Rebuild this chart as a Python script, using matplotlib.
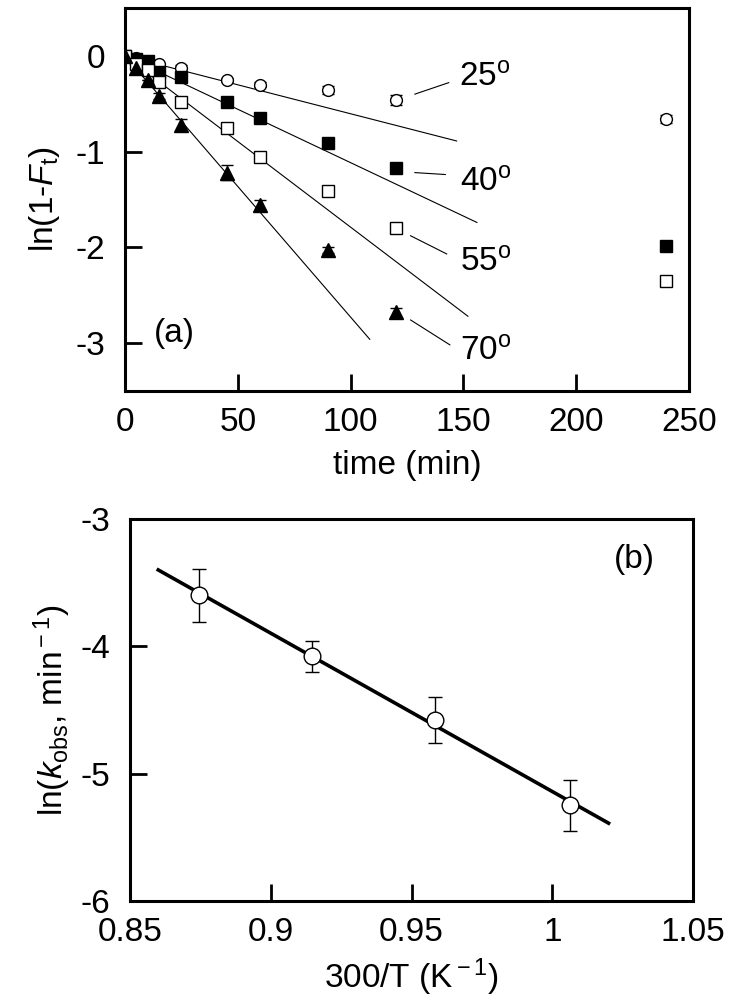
import numpy as np
import matplotlib
matplotlib.use('Agg')
import matplotlib.pyplot as plt

plt.rcParams['font.family'] = ['Liberation Sans', 'DejaVu Sans']
plt.rcParams['mathtext.fontset'] = 'custom'
plt.rcParams['mathtext.rm'] = 'Liberation Sans'
plt.rcParams['mathtext.it'] = 'Liberation Sans:italic'
plt.rcParams['axes.unicode_minus'] = False

# (a) decay data, ln(1-Ft) vs time (min)
time = [0, 5, 10, 15, 25, 45, 60, 90, 120, 240]
y25 = [0, -0.02, -0.05, -0.08, -0.13, -0.25, -0.30, -0.36, -0.46, -0.66]
e25 = [0, 0, 0, 0, 0.03, 0.02, 0.03, 0.04, 0.05, 0.04]
y40 = [0, -0.03, -0.05, -0.17, -0.22, -0.48, -0.65, -0.91, -1.17, -1.99]
e40 = [0, 0, 0, 0, 0.02, 0.02, 0.02, 0.02, 0.02, 0.02]
y55 = [0, -0.08, -0.15, -0.27, -0.48, -0.75, -1.06, -1.41, -1.80, -2.35]
e55 = [0, 0, 0, 0, 0.02, 0.02, 0.02, 0.02, 0.02, 0.02]
time70 = [0, 5, 10, 15, 25, 45, 60, 90, 120]
y70 = [0, -0.13, -0.25, -0.42, -0.72, -1.22, -1.56, -2.03, -2.68]
e70 = [0, 0, 0, 0.03, 0.06, 0.08, 0.05, 0.03, 0.05]

# fitted first-order rate constants and where each fit line stops
k_fit = [0.00605, 0.01116, 0.0179, 0.0273]
t_end = [147, 156, 152, 108.5]

temps = ['25', '40', '55', '70']
lab_xy = [(148, -0.23), (148.5, -1.33), (148.5, -2.17), (148.5, -3.10)]
lead_x = [(128.5, 143.5), (128.5, 142), (126.6, 142.6), (126.6, 144)]
lead_y = [(-0.40, -0.28), (-1.22, -1.24), (-1.88, -2.07), (-2.76, -3.02)]

# (b) Arrhenius data
invT = [0.8745, 0.9147, 0.9583, 1.0063]
lnk = [-3.60, -4.08, -4.58, -5.25]
lnk_err = [0.21, 0.12, 0.18, 0.20]
fit_x = [0.86, 1.02]
fit_y = [-3.40, -5.39]

fs = 24

fig = plt.figure(figsize=(7.31, 10.02), dpi=100)
ax1 = fig.add_axes([0.171, 0.610, 0.7715, 0.382])
ax2 = fig.add_axes([0.178, 0.101, 0.770, 0.381])

for ax in (ax1, ax2):
    for s in ax.spines.values():
        s.set_linewidth(2.2)
    ax.tick_params(direction='in', length=12, width=2, labelsize=fs,
                   top=False, right=False)
    ax.tick_params(axis='y', pad=14)
    ax.tick_params(axis='x', pad=12)

# --- panel (a)
for k, te in zip(k_fit, t_end):
    tt = np.array([0, te])
    ax1.plot(tt, -k * tt, '-k', lw=0.8, zorder=1)

ebkw = dict(ls='none', ecolor='k', elinewidth=0.9, capsize=4, capthick=0.9, zorder=3)
ax1.errorbar(time, y25, yerr=e25, fmt='o', ms=8.5, mfc='white', mec='k', mew=1.0, **ebkw)
ax1.errorbar(time, y40, yerr=e40, fmt='s', ms=8.5, mfc='k', mec='k', mew=1.0, **ebkw)
ax1.errorbar(time, y55, yerr=e55, fmt='s', ms=8.5, mfc='white', mec='k', mew=1.0, **ebkw)
ax1.errorbar(time70, y70, yerr=e70, fmt='^', ms=9.5, mfc='k', mec='k', mew=1.0, **ebkw)

for t, (lx, ly), xs, ys in zip(temps, lab_xy, lead_x, lead_y):
    ax1.plot(xs, ys, '-k', lw=0.8)
    ax1.text(lx, ly, t + '$^{\\rm o}$', fontsize=fs, va='center', ha='left')

ax1.text(22, -2.9, '(a)', fontsize=fs, ha='center', va='center')
ax1.set_xlim(0, 250)
ax1.set_ylim(-3.5, 0.5)
ax1.set_xticks([0, 50, 100, 150, 200, 250])
ax1.set_yticks([-3, -2, -1, 0])
ax1.set_xlabel('time (min)', fontsize=fs, labelpad=8)
ax1.set_ylabel('ln(1-$\\mathit{F}_{\\rm t}$)', fontsize=fs, labelpad=10)

# --- panel (b)
ax2.plot(fit_x, fit_y, '-k', lw=2.6, zorder=1)
ax2.errorbar(invT, lnk, yerr=lnk_err, fmt='o', ms=12, mfc='white', mec='k', mew=1.0,
             ls='none', ecolor='k', elinewidth=1.0, capsize=5, capthick=1.0, zorder=3)
ax2.text(1.029, -3.32, '(b)', fontsize=fs, ha='center', va='center')
ax2.set_xlim(0.85, 1.05)
ax2.set_ylim(-6, -3)
ax2.set_xticks([0.85, 0.9, 0.95, 1.0, 1.05])
ax2.set_xticklabels(['0.85', '0.9', '0.95', '1', '1.05'])
ax2.set_yticks([-6, -5, -4, -3])
ax2.set_xlabel('300/T (K$^{\\rm -1}$)', fontsize=fs, labelpad=6)
ax2.set_ylabel('ln($\\mathit{k}_{\\rm obs}$, min$^{\\rm -1}$)', fontsize=fs, labelpad=6)

fig.savefig('out.png', dpi=100)
